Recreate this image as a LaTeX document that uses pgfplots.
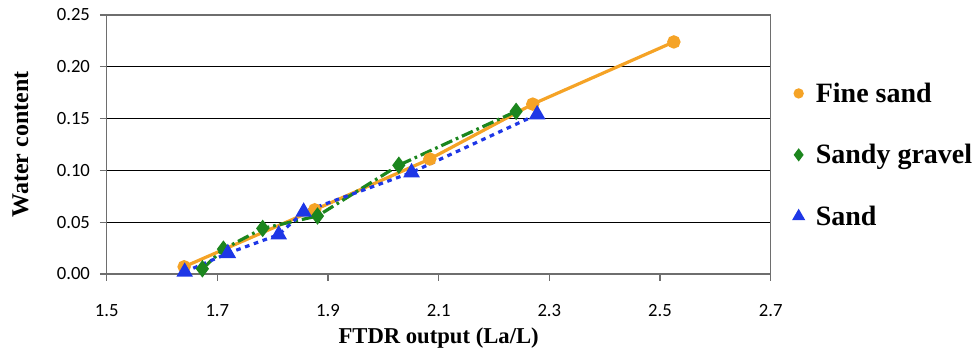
\documentclass[border=0pt]{standalone}
\usepackage{pgfplots}
\pgfplotsset{compat=1.18}
\usepackage{fontspec}
\setmainfont{Liberation Serif}
\newfontfamily\tickfont{Carlito}
\definecolor{cOrange}{RGB}{245,163,38}
\definecolor{cGreen}{RGB}{28,134,30}
\definecolor{cBlue}{RGB}{30,55,230}
\definecolor{cAxis}{RGB}{110,110,110}
\begin{document}
\begin{tikzpicture}
\begin{axis}[
  scale only axis,
  width=498pt, height=194.25pt,
  xmin=1.5, xmax=2.7, ymin=0, ymax=0.25,
  xtick={1.5,1.7,...,2.71},
  ytick={0,0.05,0.10,0.15,0.20,0.25},
  axis line style={cAxis, line width=0.8pt},
  ymajorgrids,
  major grid style={black, line width=0.6pt},
  tick align=outside,
  major tick length=5pt,
  tick style={cAxis, line width=0.8pt},
  xtick pos=bottom, ytick pos=left,
  /pgf/number format/assume math mode=true,
  xticklabel style={/pgf/number format/.cd, fixed, fixed zerofill, precision=1, /tikz/.cd, font=\tickfont\fontsize{14}{16}\selectfont, yshift=-14pt},
  yticklabel style={/pgf/number format/.cd, fixed, fixed zerofill, precision=2, /tikz/.cd, font=\tickfont\fontsize{14}{16}\selectfont, xshift=-4pt},
  xlabel={FTDR output (La/L)},
  ylabel={Water content},
  xlabel style={font=\bfseries\fontsize{17}{20}\selectfont, at={(axis description cs:0.5,-0.247)}, anchor=center},
  ylabel style={font=\bfseries\fontsize{18}{20}\selectfont, at={(axis description cs:-0.13,0.5)}, anchor=center},
  legend style={draw=none, fill=none, at={(rel axis cs:1.03,0.46)}, anchor=west,
    font=\bfseries\fontsize{21}{24}\selectfont, row sep=26pt,
    /tikz/every odd column/.append style={column sep=8pt}},
  legend cell align=left,
  clip=false,
]
\addplot[cOrange, line width=2.4pt, mark=*, mark size=3.8pt, mark options={solid, fill=cOrange, draw=cOrange},
  legend image code/.code={\draw[only marks, mark size=2.6pt] plot coordinates {(0.3cm,0pt)};}]
  coordinates {(1.640,0.007) (1.876,0.062) (2.084,0.111) (2.270,0.164) (2.525,0.224)};
\addlegendentry{Fine sand}
\addplot[cGreen, line width=2.4pt, dash pattern=on 9pt off 3pt on 2pt off 3pt, mark=diamond*, mark size=4.6pt, mark options={solid, fill=cGreen, draw=cGreen},
  legend image code/.code={\draw[only marks, mark size=3pt] plot coordinates {(0.3cm,0pt)};}]
  coordinates {(1.673,0.005) (1.711,0.024) (1.782,0.044) (1.881,0.056) (2.028,0.105) (2.240,0.157)};
\addlegendentry{Sandy gravel}
\addplot[cBlue, line width=2.4pt, dash pattern=on 3.5pt off 3.5pt, mark=triangle*, mark size=4.8pt, mark options={solid, fill=cBlue, draw=cBlue},
  legend image code/.code={\draw[only marks, mark size=3.3pt] plot coordinates {(0.3cm,0pt)};}]
  coordinates {(1.641,0.002) (1.719,0.020) (1.811,0.038) (1.856,0.060) (2.051,0.098) (2.278,0.154)};
\addlegendentry{Sand}
\end{axis}
\path[use as bounding box] (-80pt,-60pt) rectangle (655pt,205.5pt);
\end{tikzpicture}
\end{document}
